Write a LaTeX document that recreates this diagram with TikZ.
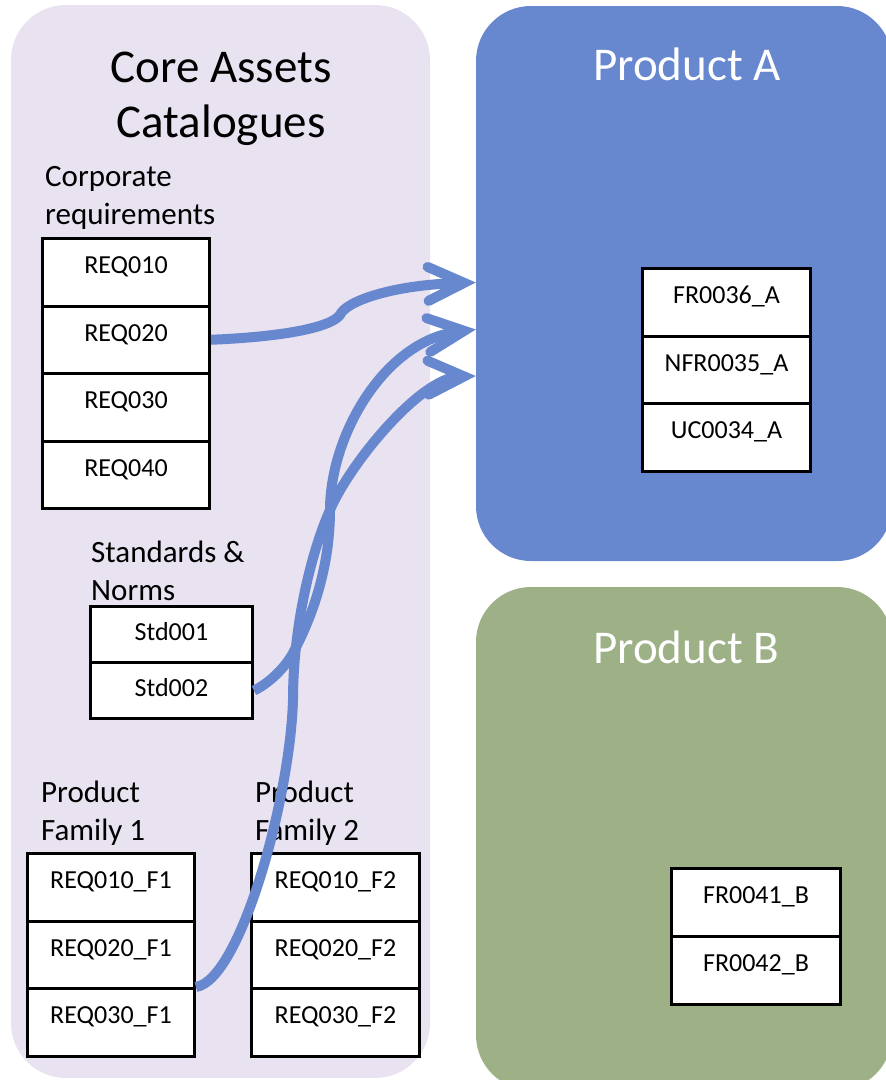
\documentclass[tikz,border=0pt]{standalone}
\usepackage{fontspec}
\setmainfont{Carlito}
\usetikzlibrary{arrows.meta}
\definecolor{assetbg}{HTML}{E9E2F0}
\definecolor{prodA}{HTML}{6787CF}
\definecolor{prodB}{HTML}{9DB086}
\definecolor{linkblue}{HTML}{6787CF}
\tikzset{
  panel/.style={rectangle, rounded corners=55pt, inner sep=0pt, draw=none},
  cell/.style={rectangle, draw=black, line width=3pt, fill=white, inner sep=0pt,
    anchor=north west, minimum width=167pt, text height=35pt, text depth=32.5pt,
    font=\fontsize{26}{30}\selectfont},
  scell/.style={cell, minimum width=162pt, text height=34pt, text depth=22pt},
  heading/.style={font=\fontsize{31}{38}\selectfont, align=left, inner sep=0pt, anchor=base west},
  bigtitle/.style={font=\fontsize{47}{55}\selectfont, align=center, inner sep=0pt, anchor=base},
  link/.style={draw=linkblue, line width=10pt, line cap=butt,
    -{Straight Barb[length=36pt,width=34pt,line cap=round]}},
}
\begin{document}
\begin{tikzpicture}[x=1pt,y=-1pt]
\useasboundingbox (0,0) rectangle (886,1080);
\clip (0,0) rectangle (886,1080);

% containers
\node[panel, fill=assetbg, minimum width=419pt, minimum height=1073pt] (core) at (220.5,541.5) {};
\node[panel, fill=prodA, minimum width=416pt, minimum height=555pt] (pa) at (684,283.5) {};
\node[panel, fill=prodB, minimum width=416pt, minimum height=503pt] (pb) at (684,838.5) {};

% titles (base anchor sits on the last line)
\node[bigtitle] (title) at (221,137) {Core Assets\\Catalogues};
\node[bigtitle, text=white] (patitle) at (687,80) {Product A};
\node[bigtitle, text=white] (pbtitle) at (686,663) {Product B};

% catalogue headings
\node[heading] (corp) at (45,224) {Corporate\\requirements};
\node[heading] (stdh) at (91,600) {Standards \&\\Norms};
\node[heading] (pf1h) at (41,840) {Product\\Family 1};
\node[heading] (pf2h) at (255,840) {Product\\Family 2};

% corporate requirements
\node[cell] (c1) at (41,237) {REQ010};
\node[cell] (c2) at (41,304.5) {REQ020};
\node[cell] (c3) at (41,372) {REQ030};
\node[cell] (c4) at (41,439.5) {REQ040};

% standards and norms
\node[scell] (s1) at (89,605) {Std001};
\node[scell] (s2) at (89,661) {Std002};

% product family 1
\node[cell] (f11) at (26,852) {REQ010\_F1};
\node[cell] (f12) at (26,919.5) {REQ020\_F1};
\node[cell] (f13) at (26,987) {REQ030\_F1};

% product family 2
\node[cell, minimum width=168pt] (f21) at (250,852) {REQ010\_F2};
\node[cell, minimum width=168pt] (f22) at (250,919.5) {REQ020\_F2};
\node[cell, minimum width=168pt] (f23) at (250,987) {REQ030\_F2};

% product A requirements
\node[cell, minimum width=168pt] (a1) at (641,267) {FR0036\_A};
\node[cell, minimum width=168pt] (a2) at (641,334.5) {NFR0035\_A};
\node[cell, minimum width=168pt] (a3) at (641,402) {UC0034\_A};

% product B requirements
\node[cell, minimum width=169pt, text depth=33pt] (b1) at (670,867) {FR0041\_B};
\node[cell, minimum width=169pt, text depth=33pt] (b2) at (670,935) {FR0042\_B};

% entry points on product A
\coordinate (pain1) at ([yshift=1pt]pa.west);
\coordinate (pain2) at ([yshift=-46pt]pa.west);
\coordinate (pain3) at ([yshift=-92.5pt]pa.west);

% reuse links
\draw[link] (c2.east) .. controls (280,337) and (330,328) .. (340,315)
  .. controls (345,302) and (390,285) .. (pain1);
\draw[link] (s2.east) .. controls (268,684) and (285,668) .. (293,653)
  .. controls (316.5,609) and (330,560) .. (330,510)
  .. controls (330,435) and (385,340) .. (pain2);
\draw[link] (f13.north east) .. controls (240,980) and (290,800) .. (293,700)
  .. controls (293,625) and (312,550) .. (330,510)
  .. controls (349.5,464) and (420,378) .. (pain3);
\end{tikzpicture}
\end{document}
